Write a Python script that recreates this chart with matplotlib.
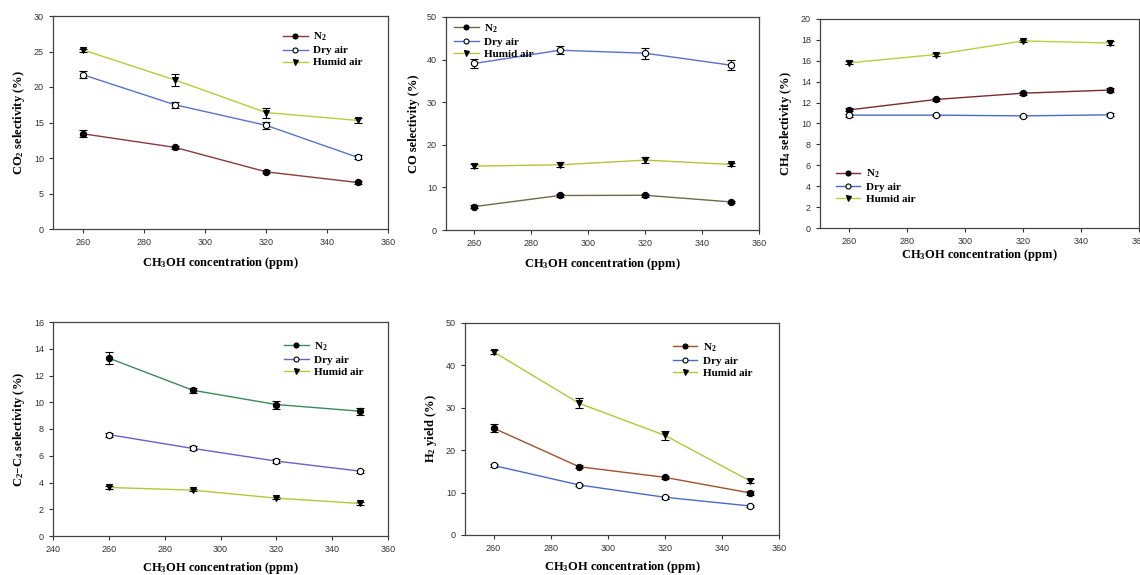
import matplotlib
matplotlib.use("Agg")
import matplotlib.pyplot as plt
import numpy as np

plt.rcParams['font.family'] = ['Liberation Sans', 'DejaVu Sans']
plt.rcParams['mathtext.default'] = 'regular'

conc = [260, 290, 320, 350]
series_names = ["N$_2$", "Dry air", "Humid air"]

# CO2 selectivity
co2_n2 = [13.4, 11.5, 8.05, 6.55]
co2_dry = [21.7, 17.5, 14.6, 10.1]
co2_humid = [25.2, 21.0, 16.4, 15.3]
co2_n2_err = [0.5, 0.2, 0.2, 0.2]
co2_dry_err = [0.5, 0.4, 0.5, 0.3]
co2_humid_err = [0.2, 0.9, 0.7, 0.3]

# CO selectivity
co_n2 = [5.5, 8.1, 8.15, 6.6]
co_dry = [39.1, 42.2, 41.5, 38.7]
co_humid = [15.0, 15.3, 16.4, 15.4]
co_n2_err = [0.3, 0.3, 0.3, 0.3]
co_dry_err = [1.0, 1.0, 1.3, 1.1]
co_humid_err = [0.4, 0.6, 0.7, 0.4]

# CH4 selectivity
ch4_n2 = [11.3, 12.3, 12.9, 13.2]
ch4_dry = [10.8, 10.8, 10.73, 10.83]
ch4_humid = [15.8, 16.6, 17.9, 17.7]
ch4_n2_err = [0.15, 0.1, 0.15, 0.15]
ch4_dry_err = [0.15, 0.1, 0.1, 0.15]
ch4_humid_err = [0.15, 0.15, 0.1, 0.15]

# C2-C4 selectivity
c24_n2 = [13.3, 10.9, 9.83, 9.33]
c24_dry = [7.58, 6.55, 5.6, 4.85]
c24_humid = [3.63, 3.43, 2.83, 2.43]
c24_n2_err = [0.45, 0.2, 0.3, 0.25]
c24_dry_err = [0.15, 0.15, 0.15, 0.12]
c24_humid_err = [0.1, 0.1, 0.1, 0.1]

# H2 yield
h2_n2 = [25.2, 16.1, 13.6, 9.9]
h2_dry = [16.4, 11.8, 8.9, 6.84]
h2_humid = [43.2, 31.05, 23.5, 12.7]
h2_n2_err = [1.0, 0.3, 0.4, 0.4]
h2_dry_err = [0.3, 0.3, 0.3, 0.3]
h2_humid_err = [0.4, 1.2, 1.0, 0.5]

W, H = 1140, 575
fig = plt.figure(figsize=(W / 100, H / 100), dpi=100)

def px_axes(x0, x1, y0, y1):
    return fig.add_axes([x0 / W, (H - y1) / H, (x1 - x0) / W, (y1 - y0) / H])

serif_bold = dict(family='Liberation Serif', weight='bold')

def panel(box, data, errs, colors, ylabel, ylim, ystep, xlim, leg_anchor, xpad=6):
    ax = px_axes(*box)
    markers = [dict(marker='o', mfc='black', mec='black'),
               dict(marker='o', mfc='white', mec='black'),
               dict(marker='v', mfc='black', mec='black')]
    for vals, err, col, mk, name in zip(data, errs, colors, markers, series_names):
        ax.plot(conc, vals, color=col, lw=1.0, ms=4.5, mew=0.8, label=name, zorder=3, **mk)
        ax.errorbar(conc, vals, yerr=err, fmt='none', ecolor='black', elinewidth=0.8,
                    capsize=3, capthick=0.8, zorder=2)
    ax.set_xlim(*xlim)
    ax.set_ylim(*ylim)
    ax.set_xticks(np.arange(xlim[0] + (10 if xlim[0] % 20 else 0), xlim[1] + 1, 20))
    ax.set_yticks(np.arange(ylim[0], ylim[1] + 0.01, ystep))
    ax.tick_params(direction='out', length=3, width=0.8, labelsize=6.5,
                   colors='#333333', top=False, right=False)
    for s in ax.spines.values():
        s.set_color('#444444')
        s.set_linewidth(0.9)
    ax.set_xlabel("CH$_3$OH concentration (ppm)", fontsize=9, labelpad=xpad, **serif_bold)
    ax.set_ylabel(ylabel, fontsize=9, labelpad=5, **serif_bold)
    ax.legend(loc='upper left', bbox_to_anchor=leg_anchor, frameon=False,
              prop=dict(family='Liberation Serif', weight='bold', size=8),
              handlelength=2.2, handletextpad=0.5, labelspacing=0.2,
              borderpad=0, borderaxespad=0, markerscale=0.8)
    return ax

panel((53, 388, 16, 229), [co2_n2, co2_dry, co2_humid],
      [co2_n2_err, co2_dry_err, co2_humid_err],
      ['#8B3A3A', '#5A73C8', '#B8CC3C'], "CO$_2$ selectivity (%)",
      (0, 30), 5, (250, 360), (0.687, 0.93), xpad=6)

panel((446, 759, 17, 230), [co_n2, co_dry, co_humid],
      [co_n2_err, co_dry_err, co_humid_err],
      ['#6B6B47', '#5A6FD0', '#B5C43A'], "CO selectivity (%)",
      (0, 50), 10, (250, 360), (0.026, 0.975), xpad=6)

panel((820, 1139, 19, 228), [ch4_n2, ch4_dry, ch4_humid],
      [ch4_n2_err, ch4_dry_err, ch4_humid_err],
      ['#7A2A2A', '#4A6AC8', '#B5D040'], "CH$_4$ selectivity (%)",
      (0, 20), 2, (250, 360), (0.05, 0.29), xpad=1)

panel((53, 388, 322, 536), [c24_n2, c24_dry, c24_humid],
      [c24_n2_err, c24_dry_err, c24_humid_err],
      ['#3A8A5A', '#6A60C8', '#B5C83A'], "C$_2$–C$_4$ selectivity (%)",
      (0, 16), 2, (240, 360), (0.69, 0.915), xpad=4)

panel((465, 779, 323, 535), [h2_n2, h2_dry, h2_humid],
      [h2_n2_err, h2_dry_err, h2_humid_err],
      ['#A0522D', '#4A6AC8', '#B0C83A'], "H$_2$ yield (%)",
      (0, 50), 10, (250, 360), (0.662, 0.915), xpad=4)

fig.savefig("out.png", dpi=100)
